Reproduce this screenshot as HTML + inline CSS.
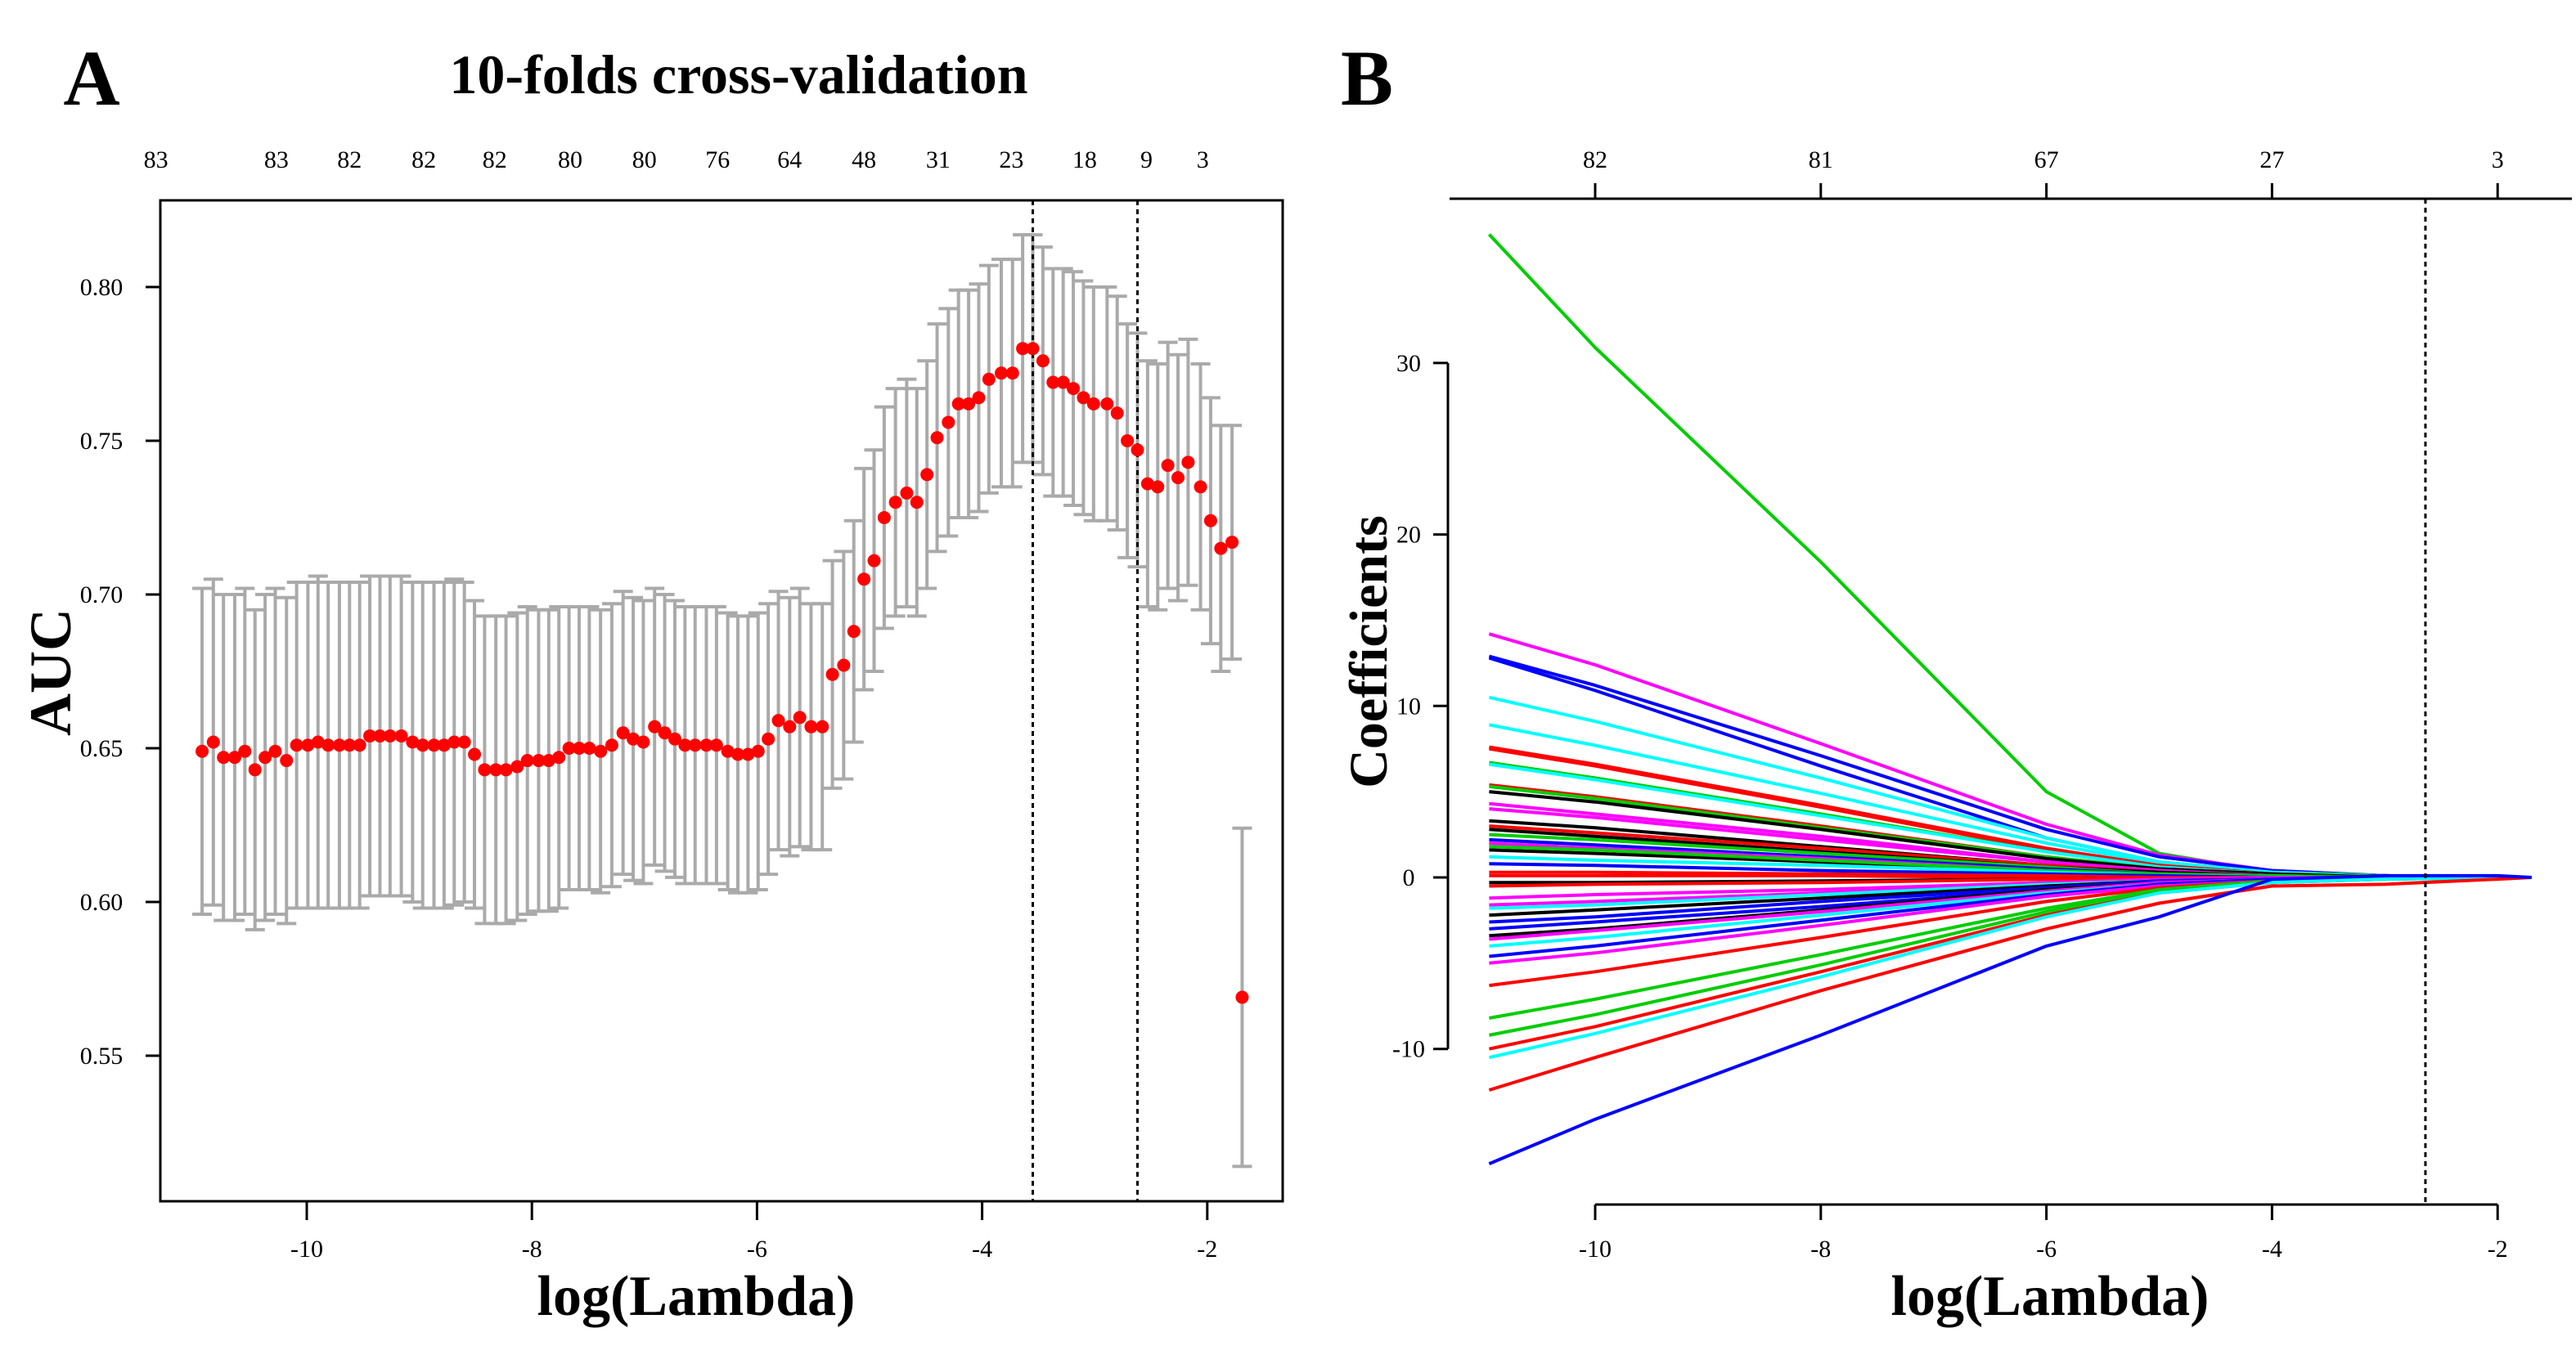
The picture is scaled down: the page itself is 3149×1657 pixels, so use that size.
<!DOCTYPE html>
<html><head><meta charset="utf-8">
<style>
html,body{margin:0;padding:0;background:#fff;}
svg{display:block;font-family:"Liberation Serif",serif;}
</style></head>
<body>
<svg id="fig" width="3149" height="1657" viewBox="0 0 3149 1657" xmlns="http://www.w3.org/2000/svg">
<rect width="3149" height="1657" fill="#fff"/>
<g id="panelA"></g>
<g id="panelB"></g>
</svg>
<script>
// ---------- Panel A data ----------
const cvLogLambda = [-10.93,-10.83,-10.74,-10.64,-10.55,-10.46,-10.37,-10.28,-10.18,-10.09,-9.99,-9.90,-9.81,-9.71,-9.62,-9.53,-9.44,-9.35,-9.26,-9.16,-9.06,-8.97,-8.87,-8.78,-8.69,-8.60,-8.51,-8.42,-8.32,-8.23,-8.13,-8.04,-7.94,-7.85,-7.76,-7.67,-7.58,-7.49,-7.39,-7.29,-7.19,-7.10,-7.01,-6.91,-6.82,-6.73,-6.64,-6.55,-6.45,-6.36,-6.26,-6.17,-6.08,-5.99,-5.90,-5.81,-5.71,-5.62,-5.52,-5.42,-5.33,-5.23,-5.14,-5.05,-4.96,-4.87,-4.77,-4.67,-4.58,-4.49,-4.40,-4.30,-4.21,-4.12,-4.03,-3.94,-3.83,-3.73,-3.64,-3.55,-3.46,-3.37,-3.28,-3.19,-3.10,-3.01,-2.89,-2.80,-2.71,-2.62,-2.53,-2.44,-2.35,-2.26,-2.17,-2.06,-1.97,-1.88,-1.78,-1.69];
const cvAUC = [0.649,0.652,0.647,0.647,0.649,0.643,0.647,0.649,0.646,0.651,0.651,0.652,0.651,0.651,0.651,0.651,0.654,0.654,0.654,0.654,0.652,0.651,0.651,0.651,0.652,0.652,0.648,0.643,0.643,0.643,0.644,0.646,0.646,0.646,0.647,0.650,0.650,0.650,0.649,0.651,0.655,0.653,0.652,0.657,0.655,0.653,0.651,0.651,0.651,0.651,0.649,0.648,0.648,0.649,0.653,0.659,0.657,0.660,0.657,0.657,0.674,0.677,0.688,0.705,0.711,0.725,0.730,0.733,0.730,0.739,0.751,0.756,0.762,0.762,0.764,0.770,0.772,0.772,0.780,0.780,0.776,0.769,0.769,0.767,0.764,0.762,0.762,0.759,0.750,0.747,0.736,0.735,0.742,0.738,0.743,0.735,0.724,0.715,0.717,0.569];
const cvSE = [0.053,0.053,0.053,0.053,0.053,0.052,0.053,0.053,0.053,0.053,0.053,0.054,0.053,0.053,0.053,0.053,0.052,0.052,0.052,0.052,0.052,0.053,0.053,0.053,0.053,0.052,0.050,0.050,0.050,0.050,0.050,0.050,0.049,0.049,0.049,0.046,0.046,0.046,0.046,0.046,0.046,0.046,0.046,0.045,0.045,0.045,0.045,0.045,0.045,0.045,0.045,0.045,0.045,0.045,0.044,0.042,0.042,0.042,0.040,0.040,0.037,0.037,0.036,0.036,0.036,0.036,0.037,0.037,0.037,0.037,0.037,0.037,0.037,0.037,0.037,0.037,0.037,0.037,0.037,0.037,0.037,0.037,0.037,0.038,0.038,0.038,0.038,0.038,0.038,0.038,0.040,0.040,0.040,0.040,0.040,0.040,0.040,0.040,0.038,0.055];
const cvXTicks = [-10,-8,-6,-4,-2];
const cvYTicks = [0.55,0.60,0.65,0.70,0.75,0.80];
const cvTopLabels = ["83","83","82","82","82","80","80","76","64","48","31","23","18","9","3"];
const cvTopPos = [-11.34,-10.27,-9.62,-8.96,-8.33,-7.66,-7.00,-6.35,-5.71,-5.05,-4.39,-3.74,-3.09,-2.54,-2.04];
const cvLambdaMin = -3.55, cvLambda1se = -2.62;

// ---------- Panel B data ----------
const pathKnots = [-10.94,-10,-8,-6,-5,-4,-3,-2,-1.7];
const pathColors = ["#00cd00","#ff00ff","#0000ff","#0000ff","#00ffff","#00ffff","#ff0000","#ff0000","#00cd00","#00ffff","#ff0000","#00cd00","#000000","#ff00ff","#ff00ff","#000000","#ff0000","#000000","#00cd00","#0000ff","#ff00ff","#000000","#00cd00","#00ffff","#0000ff","#ff0000","#ff0000","#000000","#ff0000","#ff00ff","#ff00ff","#00ffff","#000000","#0000ff","#0000ff","#000000","#ff00ff","#00ffff","#0000ff","#ff00ff","#ff0000","#00cd00","#00cd00","#ff0000","#00ffff","#ff0000","#0000ff"];
const pathValues = [
[37.5,30.9,18.4,5.0,1.4,0.3,0.1,0,0],
[14.2,12.4,7.8,3.1,1.3,0.4,0.1,0,0],
[12.9,11.2,7.1,2.8,1.2,0.4,0.1,0,0],
[12.8,10.9,6.5,2.3,0.9,0.3,0.1,0,0],
[10.5,9.1,5.8,2.3,0.9,0.3,0.1,0,0],
[8.9,7.7,4.9,2.0,0.8,0.3,0.1,0,0],
[7.6,6.6,4.2,1.7,0.7,0.2,0.1,0,0],
[7.5,6.5,4.1,1.6,0.7,0.2,0.1,0,0],
[6.7,5.8,3.7,1.5,0.6,0.2,0.1,0,0],
[6.6,5.7,3.6,1.5,0.6,0.2,0,0,0],
[5.4,4.7,3.0,1.2,0.5,0.2,0,0,0],
[5.3,4.6,2.9,1.2,0.5,0.2,0,0,0],
[5.0,4.4,2.8,1.1,0.5,0.2,0,0,0],
[4.3,3.7,2.4,0.9,0.4,0.1,0,0,0],
[4.0,3.5,2.2,0.9,0.4,0.1,0,0,0],
[3.3,2.9,1.8,0.7,0.3,0.1,0,0,0],
[3.0,2.6,1.7,0.7,0.3,0.1,0,0,0],
[2.8,2.4,1.5,0.6,0.3,0.1,0,0,0],
[2.5,2.2,1.4,0.6,0.2,0.1,0,0,0],
[2.2,1.9,1.2,0.5,0.2,0.1,0,0,0],
[2.0,1.7,1.1,0.4,0.2,0.1,0,0,0],
[1.6,1.4,0.9,0.4,0.1,0,0,0,0],
[1.8,1.6,1.0,0.4,0.2,0.1,0,0,0],
[1.2,1.0,0.7,0.3,0.1,0,0,0,0],
[0.8,0.7,0.4,0.2,0.1,0,0,0,0],
[0.3,0.3,0.2,0.1,0,0,0,0,0],
[0.1,0.1,0.1,0,0,0,0,0,0],
[-0.3,-0.3,-0.2,-0.1,0,0,0,0,0],
[-0.5,-0.4,-0.3,-0.1,0,0,0,0,0],
[-1.2,-1.0,-0.7,-0.3,-0.1,0,0,0,0],
[-1.6,-1.4,-0.9,-0.4,-0.1,0,0,0,0],
[-1.8,-1.6,-1.0,-0.4,-0.2,-0.1,0,0,0],
[-2.2,-1.9,-1.2,-0.5,-0.2,-0.1,0,0,0],
[-2.6,-2.3,-1.4,-0.6,-0.2,-0.1,0,0,0],
[-3.0,-2.6,-1.7,-0.7,-0.3,-0.1,0,0,0],
[-3.4,-3.0,-1.9,-0.7,-0.3,-0.1,0,0,0],
[-3.6,-3.1,-2.0,-0.8,-0.3,-0.1,0,0,0],
[-4.0,-3.5,-2.2,-0.9,-0.4,-0.1,0,0,0],
[-4.6,-4.0,-2.5,-1.0,-0.4,-0.1,0,0,0],
[-5.0,-4.4,-2.8,-1.1,-0.5,-0.2,0,0,0],
[-6.3,-5.5,-3.5,-1.4,-0.6,-0.2,-0.1,0,0],
[-8.2,-7.1,-4.5,-1.8,-0.7,-0.2,-0.1,0,0],
[-9.2,-8.0,-5.1,-2.0,-0.8,-0.3,-0.1,0,0],
[-10.0,-8.7,-5.5,-2.2,-0.9,-0.3,-0.1,0,0],
[-10.5,-9.1,-5.8,-2.3,-0.9,-0.3,-0.1,0,0],
[-12.4,-10.5,-6.6,-3.0,-1.5,-0.5,-0.4,-0.1,0],
[-16.7,-14.1,-9.2,-4.0,-2.3,-0.1,0.1,0.1,0]
];
const coefXTicks = [-10,-8,-6,-4,-2];
const coefYTicks = [-10,0,10,20,30];
const coefTopLabels = ["82","81","67","27","3"];
const coefTopPos = [-10,-8,-6,-4,-2];
const coefLambda1se = -2.64;

const NS = "http://www.w3.org/2000/svg";
function mk(parent, tag, attrs, text){
  const e = document.createElementNS(NS, tag);
  for (const k in attrs) e.setAttribute(k, attrs[k]);
  if (text !== undefined) e.textContent = text;
  parent.appendChild(e);
  return e;
}

// ----- Panel A -----
const A = document.getElementById('panelA');
const axA = v => 375 + (v + 10) * 137.6;
const ayA = v => 351 + (0.80 - v) / 0.05 * 188;
let t;
t = mk(A,'text',{x:112,y:128,'font-size':96,'font-weight':'bold','text-anchor':'middle'},'A');


t = mk(A,'text',{x:903,y:114,'font-size':68,'font-weight':'bold','text-anchor':'middle'},'10-folds cross-validation');


const box = mk(A,'rect',{x:196,y:245,width:1372,height:1224,fill:'none',stroke:'#000','stroke-width':3});


cvXTicks.forEach(v=>{
  const x = axA(v);
  const l = mk(A,'line',{x1:x,x2:x,y1:1469,y2:1492,stroke:'#000','stroke-width':3});
  
  
  const tx = mk(A,'text',{x:x,y:1537,'font-size':30,'text-anchor':'middle'},String(v));
  
  
});
cvYTicks.forEach(v=>{
  const y = ayA(v);
  const l = mk(A,'line',{x1:178,x2:196,y1:y,y2:y,stroke:'#000','stroke-width':3});
  
  
  const tx = mk(A,'text',{x:124,y:y+10,'font-size':30,'text-anchor':'middle'},v.toFixed(2));
  
  
});
cvTopLabels.forEach((s,i)=>{
  const tx = mk(A,'text',{x:axA(cvTopPos[i]),y:205,'font-size':30,'text-anchor':'middle'},s);
  
  
});
t = mk(A,'text',{x:0,y:0,'font-size':72,'font-weight':'bold','text-anchor':'middle',transform:'translate(86,822) rotate(-90)'},'AUC');


t = mk(A,'text',{x:851,y:1608,'font-size':70,'font-weight':'bold','text-anchor':'middle'},'log(Lambda)');


cvLogLambda.forEach((lv,i)=>{
  const x = axA(lv), yu = ayA(cvAUC[i]+cvSE[i]), yl = ayA(cvAUC[i]-cvSE[i]);
  const g = mk(A,'path',{d:`M${x},${yu}V${yl}M${x-12},${yu}H${x+12}M${x-12},${yl}H${x+12}`,stroke:'#aaaaaa','stroke-width':4,fill:'none'});
  
  
});
[cvLambdaMin, cvLambda1se].forEach(v=>{
  const x = axA(v);
  const l = mk(A,'line',{x1:x,x2:x,y1:245,y2:1469,stroke:'#000','stroke-width':3,'stroke-dasharray':'6,5'});
  
  
});
cvLogLambda.forEach((lv,i)=>{
  const c = mk(A,'circle',{cx:axA(lv),cy:ayA(cvAUC[i]),r:8,fill:'#ff0000'});
  
  
});

// ----- Panel B -----
const B = document.getElementById('panelB');
const axB = v => 1950 + (v + 10) * 137.9;
const ayB = v => 1073 - v * 20.97;
t = mk(B,'text',{x:1671,y:128,'font-size':96,'font-weight':'bold','text-anchor':'middle'},'B');


let ln = mk(B,'line',{x1:1772,x2:3144,y1:243,y2:243,stroke:'#000','stroke-width':3});


ln = mk(B,'line',{x1:axB(-10),x2:axB(-2),y1:1473,y2:1473,stroke:'#000','stroke-width':3});


ln = mk(B,'line',{x1:1770,x2:1770,y1:ayB(30),y2:ayB(-10),stroke:'#000','stroke-width':3});


coefXTicks.forEach(v=>{
  const x = axB(v);
  const l = mk(B,'line',{x1:x,x2:x,y1:1473,y2:1492,stroke:'#000','stroke-width':3});
  
  
  const tx = mk(B,'text',{x:x,y:1537,'font-size':30,'text-anchor':'middle'},String(v));
  
  
});
coefTopLabels.forEach((s,i)=>{
  const x = axB(coefTopPos[i]);
  const l = mk(B,'line',{x1:x,x2:x,y1:243,y2:224,stroke:'#000','stroke-width':3});
  
  
  const tx = mk(B,'text',{x:x,y:205,'font-size':30,'text-anchor':'middle'},s);
  
  
});
coefYTicks.forEach(v=>{
  const y = ayB(v);
  const l = mk(B,'line',{x1:1752,x2:1770,y1:y,y2:y,stroke:'#000','stroke-width':3});
  
  
  const tx = mk(B,'text',{x:1722,y:y+10,'font-size':30,'text-anchor':'middle'},String(v));
  
  
});
t = mk(B,'text',{x:0,y:0,'font-size':66,'font-weight':'bold','text-anchor':'middle',transform:'translate(1695,797) rotate(-90)'},'Coefficients');


t = mk(B,'text',{x:2506,y:1608,'font-size':70,'font-weight':'bold','text-anchor':'middle'},'log(Lambda)');


pathValues.forEach((vals,i)=>{
  const d = vals.map((v,j)=>(j?'L':'M')+axB(pathKnots[j]).toFixed(1)+','+ayB(v).toFixed(1)).join('');
  const p = mk(B,'path',{d:d,stroke:pathColors[i],'stroke-width':4,fill:'none','stroke-linejoin':'round'});
  
  
});
ln = mk(B,'line',{x1:axB(coefLambda1se),x2:axB(coefLambda1se),y1:243,y2:1473,stroke:'#000','stroke-width':3,'stroke-dasharray':'6,5'});


</script>
</body></html>
